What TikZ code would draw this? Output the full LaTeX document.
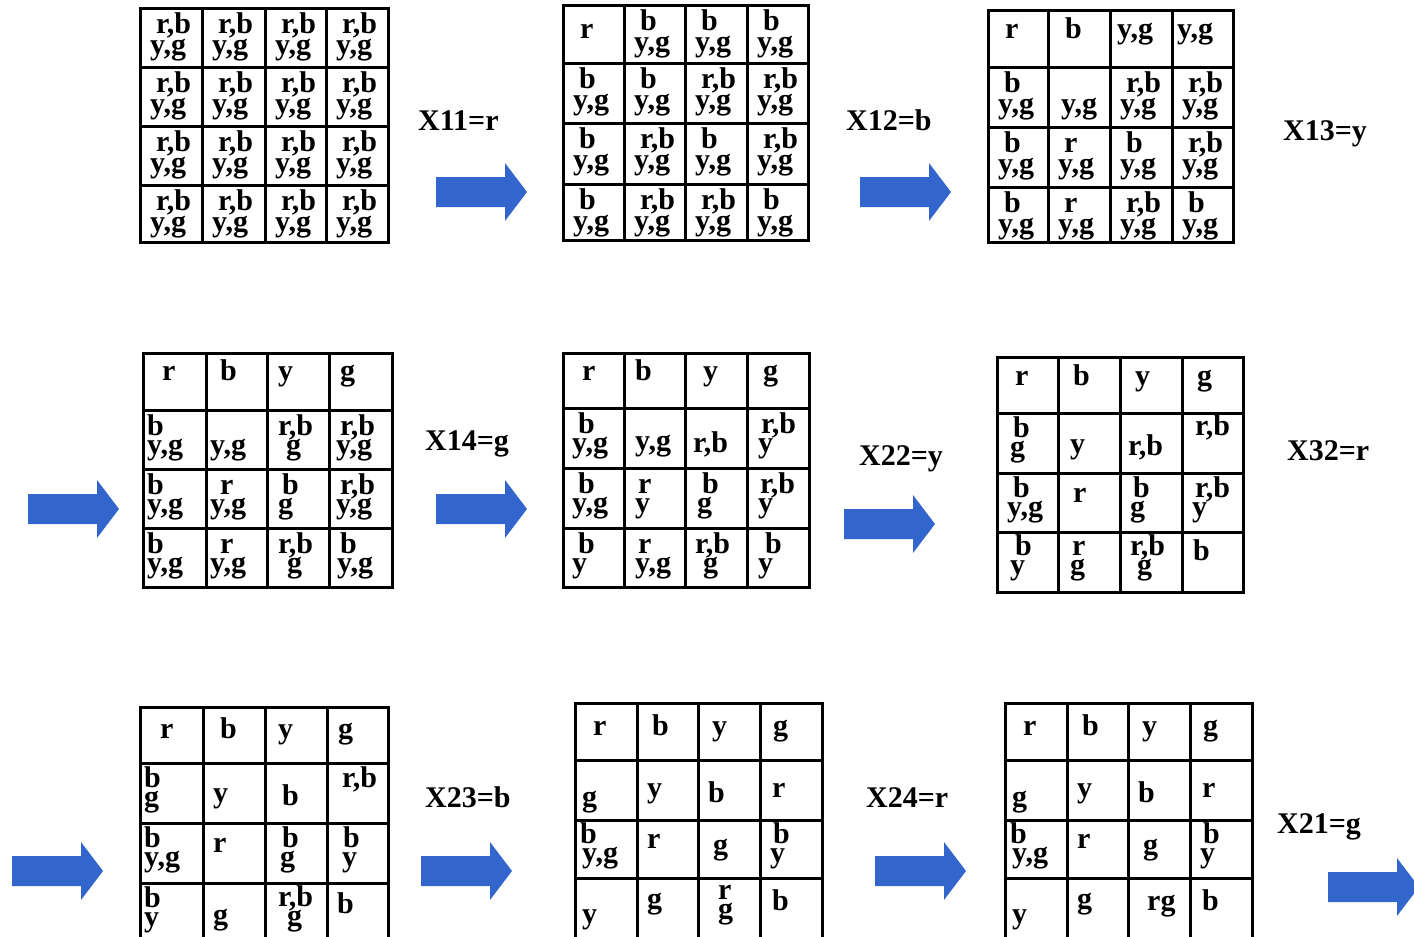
\documentclass[tikz,border=0pt]{standalone}
\usepackage{fontspec}
\setmainfont{Liberation Serif}
\definecolor{arrowc}{RGB}{51,102,204}
\newcounter{tn}
\newcommand\gridX[5]{\def\gxl##1{\ifcase##1 #1\or #2\or #3\or #4\or #5\fi}}
\newcommand\gridY[5]{\def\gyl##1{\ifcase##1 #1\or #2\or #3\or #4\or #5\fi}}
\newcommand\gridD[4]{\def\dxa{#1}\def\dxb{#2}\def\dya{#3}\def\dyb{#4}}
% single line text in cell (col,row): text, dx, dy
\newcommand\celltxt[5]{\edef\tmpx{\gxl{#1}}\edef\tmpy{\gyl{#2}}%
  \pgfmathsetmacro\cx{\tmpx+#4}\pgfmathsetmacro\cy{\tmpy+#5}%
  \stepcounter{tn}\edef\nm{t\arabic{tn}}%
  \node[txt] (\nm) at (\cx,\cy) {#3};}
% two line text in cell (col,row): top, dx1, dy1, bottom, dx2, dy2
\newcommand\cellv[8]{\edef\tmpx{\gxl{#1}}\edef\tmpy{\gyl{#2}}%
  \pgfmathsetmacro\cx{\tmpx+#7}\pgfmathsetmacro\cy{\tmpy+#8}%
  \pgfmathsetmacro\kk{#4-#7}\pgfmathsetmacro\bs{#8-#5}%
  \stepcounter{tn}\edef\nm{t\arabic{tn}}%
  \node[txt] (\nm) at (\cx,\cy) {\vbox{\baselineskip=\bs pt\lineskiplimit=-1000pt\lineskip=0pt
     \hbox{\kern\kk pt #3}\hbox{#6}}};}
\newcommand\cellpair[4]{\cellv{#1}{#2}{#3}{\dxa}{\dya}{#4}{\dxb}{\dyb}}
\newcommand\drawgrid{%
  \edef\gya{\gyl{0}}\edef\gyb{\gyl{4}}\edef\gxa{\gxl{0}}\edef\gxb{\gxl{4}}%
  \foreach \ii in {0,...,4}{\edef\xx{\gxl{\ii}}\edef\yy{\gyl{\ii}}%
    \draw[gridl] (\xx,\gya) -- (\xx,\gyb);
    \draw[gridl] (\gxa,\yy) -- (\gxb,\yy);}}
\newcommand\barrow[2]{\fill[arrowc] (#1,#2-15) -- (#1+69,#2-15) -- (#1+69,#2-29) -- (#1+91,#2) -- (#1+69,#2+29) -- (#1+69,#2+15) -- (#1,#2+15) -- cycle;}
\begin{document}
\begin{tikzpicture}[x=1pt,y=-1pt,
  txt/.style={anchor=base west, inner sep=0pt, font=\fontsize{30}{30}\selectfont\bfseries},
  lbl/.style={anchor=base west, inner sep=0pt, font=\fontsize{30}{30}\selectfont\bfseries},
  gridl/.style={line width=3pt, line cap=rect}]
\useasboundingbox (0,0) rectangle (1414,937);
\clip (0,0) rectangle (1414,937);
\fill[white] (0,0) rectangle (1414,937);

% ---------- Grid 1
\gridX{140}{202}{265}{326}{388}\gridY{8}{67}{126}{185}{242}\gridD{16}{10}{25}{46}
\drawgrid
\foreach \cc in {0,...,3}{\foreach \rr in {0,...,3}{\cellpair{\cc}{\rr}{r,b}{y,g}}}

% ---------- Grid 2
\gridX{563}{624}{685}{747}{808}\gridY{5}{63}{123}{184}{240}\gridD{16}{10}{25}{46}
\drawgrid
\celltxt{0}{0}{r}{17}{33}
\cellpair{1}{0}{b}{y,g}\cellpair{2}{0}{b}{y,g}\cellpair{3}{0}{b}{y,g}
\cellpair{0}{1}{b}{y,g}\cellpair{1}{1}{b}{y,g}\cellpair{2}{1}{r,b}{y,g}\cellpair{3}{1}{r,b}{y,g}
\cellpair{0}{2}{b}{y,g}\cellpair{1}{2}{r,b}{y,g}\cellpair{2}{2}{b}{y,g}\cellpair{3}{2}{r,b}{y,g}
\cellpair{0}{3}{b}{y,g}\cellpair{1}{3}{r,b}{y,g}\cellpair{2}{3}{r,b}{y,g}\cellpair{3}{3}{b}{y,g}

% ---------- Grid 3
\gridX{988}{1048}{1110}{1172}{1233}\gridY{10}{67}{127}{187}{242}\gridD{16}{10}{25}{46}
\drawgrid
\celltxt{0}{0}{r}{17}{28}\celltxt{1}{0}{b}{17}{28}\celltxt{2}{0}{y,g}{7}{28}\celltxt{3}{0}{y,g}{5}{28}
\cellpair{0}{1}{b}{y,g}\celltxt{1}{1}{y,g}{13}{46}\cellpair{2}{1}{r,b}{y,g}\cellpair{3}{1}{r,b}{y,g}
\cellpair{0}{2}{b}{y,g}\cellpair{1}{2}{r}{y,g}\cellpair{2}{2}{b}{y,g}\cellpair{3}{2}{r,b}{y,g}
\cellpair{0}{3}{b}{y,g}\cellpair{1}{3}{r}{y,g}\cellpair{2}{3}{r,b}{y,g}\cellpair{3}{3}{b}{y,g}

% ---------- Grid 4
\gridX{143}{206}{267}{329}{392}\gridY{353}{410}{469}{528}{587}\gridD{11}{7}{25}{44}
\drawgrid
\celltxt{0}{0}{r}{19}{27}\celltxt{1}{0}{b}{14}{27}\celltxt{2}{0}{y}{11}{27}\celltxt{3}{0}{g}{11}{27}
\cellv{0}{1}{b}{4}{25}{y,g}{4}{44}
\celltxt{1}{1}{y,g}{4}{44}
\cellv{2}{1}{r,b}{11}{25}{g}{19}{44}
\cellpair{3}{1}{r,b}{y,g}
\cellv{0}{2}{b}{4}{25}{y,g}{4}{44}
\cellv{1}{2}{r}{14}{25}{y,g}{4}{44}
\cellv{2}{2}{b}{15}{25}{g}{11}{44}
\cellpair{3}{2}{r,b}{y,g}
\cellv{0}{3}{b}{4}{25}{y,g}{4}{44}
\cellv{1}{3}{r}{14}{25}{y,g}{4}{44}
\cellv{2}{3}{r,b}{11}{25}{g}{20}{44}
\cellv{3}{3}{b}{11}{25}{y,g}{8}{44}

% ---------- Grid 5
\gridX{563}{624}{685}{747}{809}\gridY{353}{408}{468}{528}{587}\gridD{15}{9}{25}{44}
\drawgrid
\celltxt{0}{0}{r}{19}{27}\celltxt{1}{0}{b}{11}{27}\celltxt{2}{0}{y}{18}{27}\celltxt{3}{0}{g}{16}{27}
\cellpair{0}{1}{b}{y,g}
\celltxt{1}{1}{y,g}{11}{42}
\celltxt{2}{1}{r,b}{8}{44}
\cellv{3}{1}{r,b}{14}{25}{y}{11}{44}
\cellpair{0}{2}{b}{y,g}
\cellv{1}{2}{r}{14}{25}{y}{11}{44}
\cellv{2}{2}{b}{17}{25}{g}{12}{44}
\cellv{3}{2}{r,b}{13}{25}{y}{11}{44}
\cellv{0}{3}{b}{15}{25}{y}{9}{44}
\cellv{1}{3}{r}{14}{25}{y,g}{11}{44}
\cellv{2}{3}{r,b}{10}{25}{g}{18}{44}
\cellv{3}{3}{b}{18}{25}{y}{11}{44}

% ---------- Grid 6
\gridX{997}{1058}{1120}{1182}{1243}\gridY{357}{413}{473}{532}{592}\gridD{16}{12}{24}{43}
\drawgrid
\celltxt{0}{0}{r}{18}{28}\celltxt{1}{0}{b}{15}{28}\celltxt{2}{0}{y}{15}{28}\celltxt{3}{0}{g}{15}{28}
\cellv{0}{1}{b}{16}{24}{g}{13}{43}
\celltxt{1}{1}{y}{12}{40}
\celltxt{2}{1}{r,b}{8}{42}
\celltxt{3}{1}{r,b}{13}{22}
\cellv{0}{2}{b}{16}{24}{y,g}{10}{43}
\celltxt{1}{2}{r}{15}{29}
\cellv{2}{2}{b}{13}{24}{g}{10}{43}
\cellv{3}{2}{r,b}{13}{24}{y}{10}{43}
\cellv{0}{3}{b}{18}{23}{y}{13}{42}
\cellv{1}{3}{r}{14}{23}{g}{12}{42}
\cellv{2}{3}{r,b}{10}{23}{g}{17}{42}
\celltxt{3}{3}{b}{11}{28}

% ---------- Grid 7
\gridX{140}{203}{265}{327}{388}\gridY{707}{763}{823}{883}{945}
\drawgrid
\celltxt{0}{0}{r}{20}{31}\celltxt{1}{0}{b}{17}{31}\celltxt{2}{0}{y}{13}{31}\celltxt{3}{0}{g}{11}{31}
\cellv{0}{1}{b}{4}{24}{g}{4}{43}
\celltxt{1}{1}{y}{10}{39}
\celltxt{2}{1}{b}{17}{42}
\celltxt{3}{1}{r,b}{15}{24}
\cellv{0}{2}{b}{4}{24}{y,g}{4}{43}
\celltxt{1}{2}{r}{10}{29}
\cellv{2}{2}{b}{17}{24}{g}{15}{43}
\cellv{3}{2}{b}{16}{24}{y}{15}{43}
\cellv{0}{3}{b}{4}{24}{y}{4}{43}
\celltxt{1}{3}{g}{10}{41}
\cellv{2}{3}{r,b}{13}{23}{g}{22}{42}
\celltxt{3}{3}{b}{10}{30}

% ---------- Grid 8
\gridX{575}{637}{698}{760}{822}\gridY{703}{760}{820}{878}{940}
\drawgrid
\celltxt{0}{0}{r}{18}{32}\celltxt{1}{0}{b}{15}{32}\celltxt{2}{0}{y}{14}{32}\celltxt{3}{0}{g}{13}{32}
\celltxt{0}{1}{g}{7}{46}
\celltxt{1}{1}{y}{10}{37}
\celltxt{2}{1}{b}{10}{42}
\celltxt{3}{1}{r}{12}{37}
\cellv{0}{2}{b}{5}{23}{y,g}{7}{42}
\celltxt{1}{2}{r}{10}{28}
\celltxt{2}{2}{g}{15}{34}
\cellv{3}{2}{b}{13}{23}{y}{10}{42}
\celltxt{0}{3}{y}{7}{45}
\celltxt{1}{3}{g}{10}{30}
\cellv{2}{3}{r}{20}{21}{g}{20}{40}
\celltxt{3}{3}{b}{12}{32}

% ---------- Grid 9
\gridX{1005}{1067}{1128}{1190}{1252}\gridY{703}{760}{820}{878}{940}
\drawgrid
\celltxt{0}{0}{r}{18}{32}\celltxt{1}{0}{b}{15}{32}\celltxt{2}{0}{y}{14}{32}\celltxt{3}{0}{g}{13}{32}
\celltxt{0}{1}{g}{7}{46}
\celltxt{1}{1}{y}{10}{37}
\celltxt{2}{1}{b}{10}{42}
\celltxt{3}{1}{r}{12}{37}
\cellv{0}{2}{b}{5}{23}{y,g}{7}{42}
\celltxt{1}{2}{r}{10}{28}
\celltxt{2}{2}{g}{15}{34}
\cellv{3}{2}{b}{13}{23}{y}{10}{42}
\celltxt{0}{3}{y}{7}{45}
\celltxt{1}{3}{g}{10}{30}
\celltxt{2}{3}{rg}{19}{32}
\celltxt{3}{3}{b}{12}{32}

% ---------- Labels
\node[lbl] (l1) at (418,130) {X11=r};
\node[lbl] (l2) at (846,130) {X12=b};
\node[lbl] (l3) at (1283,140) {X13=y};
\node[lbl] (l4) at (425,450) {X14=g};
\node[lbl] (l5) at (859,465) {X22=y};
\node[lbl] (l6) at (1287,460) {X32=r};
\node[lbl] (l7) at (425,807) {X23=b};
\node[lbl] (l8) at (866,807) {X24=r};
\node[lbl] (l9) at (1277,833) {X21=g};

% ---------- Block arrows
\barrow{436}{192}
\barrow{860}{192}
\barrow{28}{509}
\barrow{436}{509}
\barrow{844}{524}
\barrow{12}{871}
\barrow{421}{871}
\barrow{875}{871}
\barrow{1328}{887}
\end{tikzpicture}
\end{document}
